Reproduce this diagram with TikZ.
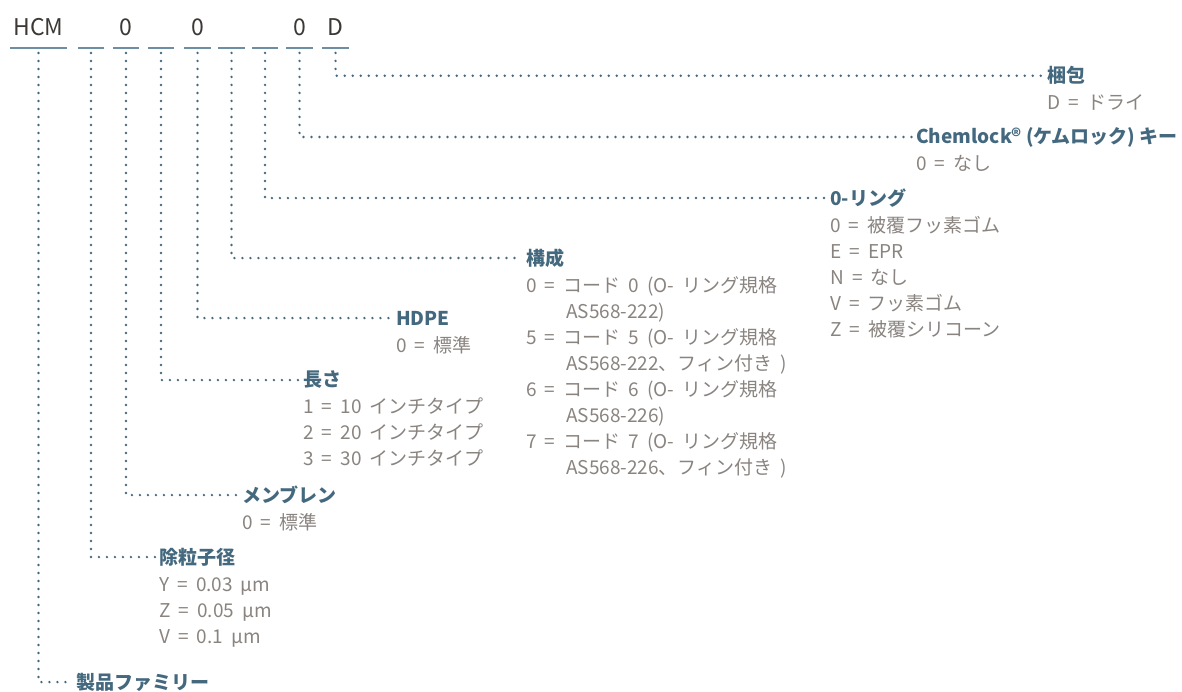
\documentclass[tikz,border=0pt]{standalone}
\usepackage{fontspec}
\setmainfont{Noto Sans CJK JP}
\newfontfamily\optfont{Noto Sans CJK JP}[WordSpace=1.9]
\definecolor{titleblue}{HTML}{44697F}
\definecolor{ruleblue}{HTML}{6E8FA3}
\definecolor{optgray}{HTML}{8A8480}
\definecolor{codegray}{HTML}{3B3835}
\tikzset{
  dotline/.style={draw=titleblue,line width=2.7pt,line cap=round,dash pattern=on 0pt off 8pt},
  slot/.style={inner sep=0,anchor=base,text height=17pt,text depth=12.7pt,font={\fontsize{23}{26}\selectfont},text=codegray},
  under/.style={draw=ruleblue,line width=1.6pt},
  ttl/.style={anchor=west,inner xsep=4pt,inner ysep=0,font={\bfseries\fontsize{19}{22}\selectfont},text=titleblue},
  opt/.style={anchor=base west,inner xsep=4pt,inner ysep=0,font={\optfont\fontsize{19}{22}\selectfont},text=optgray}
}
\begin{document}
\begin{tikzpicture}[x=1pt,y=-1pt]
\useasboundingbox(0,0)rectangle(1182,691);
\foreach \n/\x/\w/\t in {s1/38.5/57/HCM,s2/91/26/{},s3/126/26/0,s4/161/26/{},s5/197.5/27/0,s6/231.5/27/{},s7/265/26/{},s8/299.5/27/0,s9/335.5/27/D}{
  \node[slot,minimum width=\w pt](\n)at(\x,35){\t};
  \draw[under](\n.south west)--(\n.south east);
}
\node[ttl](pack)at(1043,75.7){梱包};
\node[ttl](key)at(912,137){Chemlock® (ケムロック) キー};
\node[ttl](oring)at(826,198){0-リング};
\node[ttl](conf)at(522,258){構成};
\node[ttl](hdpe)at(392,318){HDPE};
\node[ttl](len)at(299,380){長さ};
\node[ttl](memb)at(238,495){メンブレン};
\node[ttl](pore)at(155,557){除粒子径};
\node[ttl](fam)at(72,682){製品ファミリー};
\foreach \s/\t in {s1/fam,s2/pore,s3/memb,s4/len,s5/hdpe,s6/conf,s7/oring,s8/key,s9/pack}
  \draw[dotline]([yshift=-5pt]\s.south)|-(\t.west);
\foreach \v[count=\i] in {{D = ドライ}}
  \node[opt](pack-\i)at([yshift={-26pt*\i-1pt}]pack.base west){\v};
\foreach \v[count=\i] in {{0 = なし}}
  \node[opt](key-\i)at([yshift={-26pt*\i-1pt}]key.base west){\v};
\foreach \v[count=\i] in {{0 = 被覆フッ素ゴム},{E = EPR},{N = なし},{V = フッ素ゴム},{Z = 被覆シリコーン}}
  \node[opt](oring-\i)at([yshift={-26pt*\i-1pt}]oring.base west){\v};
\foreach \v[count=\i] in {{0 = コード 0 (O- リング規格},{\hspace*{40pt}AS568-222)},{5 = コード 5 (O- リング規格},{\hspace*{40pt}AS568-222、フィン付き )},{6 = コード 6 (O- リング規格},{\hspace*{40pt}AS568-226)},{7 = コード 7 (O- リング規格},{\hspace*{40pt}AS568-226、フィン付き )}}
  \node[opt](conf-\i)at([yshift={-26pt*\i-1pt}]conf.base west){\v};
\foreach \v[count=\i] in {{0 = 標準}}
  \node[opt](hdpe-\i)at([yshift={-26pt*\i-1pt}]hdpe.base west){\v};
\foreach \v[count=\i] in {{1 = 10 インチタイプ},{2 = 20 インチタイプ},{3 = 30 インチタイプ}}
  \node[opt](len-\i)at([yshift={-26pt*\i-1pt}]len.base west){\v};
\foreach \v[count=\i] in {{0 = 標準}}
  \node[opt](memb-\i)at([yshift={-26pt*\i-1pt}]memb.base west){\v};
\foreach \v[count=\i] in {{Y = 0.03 µm},{Z = 0.05 µm},{V = 0.1 µm}}
  \node[opt](pore-\i)at([yshift={-26pt*\i-1pt}]pore.base west){\v};
\end{tikzpicture}
\end{document}
